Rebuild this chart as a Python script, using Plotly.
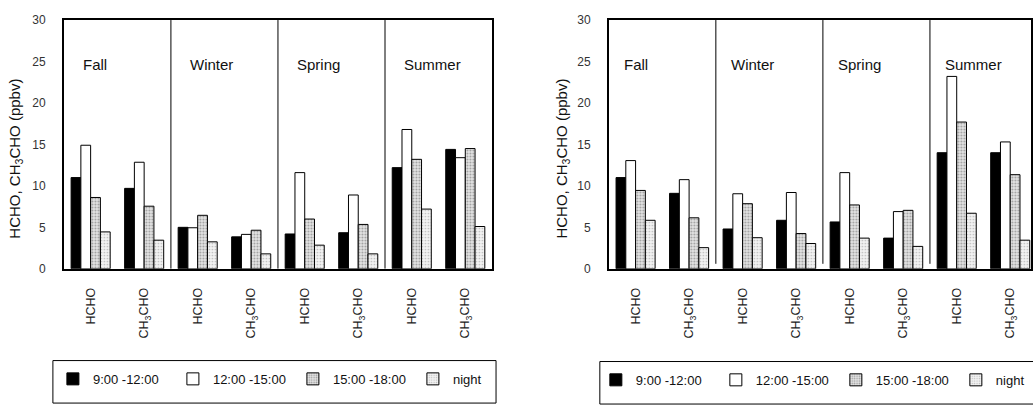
import plotly.graph_objects as go

W, H = 1033, 412

seasons = ["Fall", "Winter", "Spring", "Summer"]
species = ["HCHO", "CH<sub>3</sub>CHO"]
periods = ["9:00 -12:00", "12:00 -15:00", "15:00 -18:00", "night"]
ytitle = "HCHO, CH<sub>3</sub>CHO (ppbv)"

# order: Fall HCHO, Fall CH3CHO, Winter HCHO, Winter CH3CHO, Spring ..., Summer ...
left_0912 = [11.0, 9.7, 5.0, 3.85, 4.2, 4.35, 12.2, 14.4]
left_1215 = [14.9, 12.85, 4.95, 4.15, 11.6, 8.9, 16.8, 13.4]
left_1518 = [8.6, 7.55, 6.45, 4.65, 6.0, 5.35, 13.2, 14.5]
left_night = [4.45, 3.45, 3.25, 1.8, 2.85, 1.8, 7.2, 5.1]

right_0912 = [11.0, 9.1, 4.8, 5.85, 5.65, 3.7, 14.0, 14.0]
right_1215 = [13.05, 10.75, 9.05, 9.2, 11.6, 6.9, 23.2, 15.3]
right_1518 = [9.45, 6.15, 7.85, 4.25, 7.7, 7.05, 17.7, 11.35]
right_night = [5.85, 2.55, 3.75, 3.05, 3.7, 2.7, 6.7, 3.45]

categories = [sp for s in seasons for sp in species]
xpos = list(range(len(categories)))

styles = [
    dict(marker=dict(color="black", line=dict(color="black", width=1))),
    dict(marker=dict(color="white", line=dict(color="black", width=1))),
    dict(marker=dict(color="white", line=dict(color="black", width=1),
                     pattern=dict(shape=".", fgcolor="#555", bgcolor="#e4e4e4",
                                  size=3, solidity=0.35))),
    dict(marker=dict(color="white", line=dict(color="black", width=1),
                     pattern=dict(shape=".", fgcolor="#888", bgcolor="#f2f2f2",
                                  size=3, solidity=0.25))),
]
legend_widths = [75, 75, 75, 26]

fig = go.Figure()
for panel, (series, xa, ya, leg) in enumerate([
        ([left_0912, left_1215, left_1518, left_night], "x", "y", "legend"),
        ([right_0912, right_1215, right_1518, right_night], "x2", "y2", "legend2")]):
    for name, vals, st, lw in zip(periods, series, styles, legend_widths):
        fig.add_trace(go.Bar(x=xpos, y=vals, name=name, xaxis=xa, yaxis=ya,
                             legend=leg, legendwidth=lw, **st))

step = 429 / 8.0
ydom = [1 - 271 / H, 1 - 13.5 / H]
font = dict(family="Liberation Sans, Arial, sans-serif", color="#111")

axis_x = dict(tickmode="array", tickvals=xpos, ticktext=categories, tickangle=-90,
              showline=True, linecolor="black", linewidth=2, mirror=True,
              ticks="", showgrid=False, zeroline=False, ticklabelstandoff=12,
              tickfont=dict(size=12.5, color="#222"))
axis_y = dict(range=[0, 30], tickvals=[0, 5, 10, 15, 20, 25, 30],
              showline=True, linecolor="black", linewidth=1.5, mirror=True,
              ticks="", showgrid=False, zeroline=False, ticklabelstandoff=14,
              tickfont=dict(size=12, color="#333"))

fig.update_layout(
    width=W, height=H, margin=dict(l=0, r=0, t=0, b=0),
    paper_bgcolor="white", plot_bgcolor="white", font=font,
    barmode="group", bargap=0.27, bargroupgap=0,
    xaxis=dict(domain=[64 / W, 493 / W], range=[-0.5, 7.5], anchor="y", **axis_x),
    yaxis=dict(domain=ydom, anchor="x", **axis_y),
    xaxis2=dict(domain=[610 / W, 1.0], range=[-0.5, -0.5 + (W - 610) / step],
                anchor="y2", **axis_x),
    yaxis2=dict(domain=ydom, anchor="x2", **axis_y),
    legend=dict(orientation="h", x=53 / W, xanchor="left", y=1 - 385 / H,
                yanchor="middle", font=dict(size=13, color="#111"),
                entrywidthmode="pixels", bgcolor="rgba(0,0,0,0)",
                traceorder="normal"),
    legend2=dict(orientation="h", x=597 / W, xanchor="left", y=1 - 386 / H,
                 yanchor="middle", font=dict(size=13, color="#111"),
                 entrywidthmode="pixels", bgcolor="rgba(0,0,0,0)",
                 traceorder="normal"),
)

shapes = []
for xr, yr, y0 in [("x", "y", 0), ("x2", "y2", 0.6)]:
    for k in range(1, len(seasons)):
        shapes.append(dict(type="line", xref=xr, yref=yr, x0=2 * k - 0.5, x1=2 * k - 0.5,
                           y0=y0, y1=30, line=dict(color="black", width=1)))
shapes.append(dict(type="rect", xref="paper", yref="paper", x0=53 / W, x1=497 / W,
                   y0=1 - 410 / H, y1=1 - 366 / H, line=dict(color="black", width=1)))
shapes.append(dict(type="rect", xref="paper", yref="paper", x0=601 / W, x1=1.05,
                   y0=1 - 411 / H, y1=1 - 367 / H, line=dict(color="black", width=1)))
fig.update_layout(shapes=shapes)

annotations = []
for xr, yr, off in [("x", "y", 0.32), ("x2", "y2", 0.24)]:
    for k, s in enumerate(seasons):
        annotations.append(dict(text=s, xref=xr, yref=yr, x=2 * k - 0.5 + off, y=24.6,
                                xanchor="left", yanchor="middle", showarrow=False,
                                font=dict(size=15, color="#111")))
for xc in (16, 564):
    annotations.append(dict(text=ytitle, xref="paper", yref="paper", x=xc / W,
                            y=1 - 157 / H, xanchor="center", yanchor="middle",
                            textangle=-90, showarrow=False,
                            font=dict(size=15, color="#111")))
fig.update_layout(annotations=annotations)

fig.write_html("out.html")
